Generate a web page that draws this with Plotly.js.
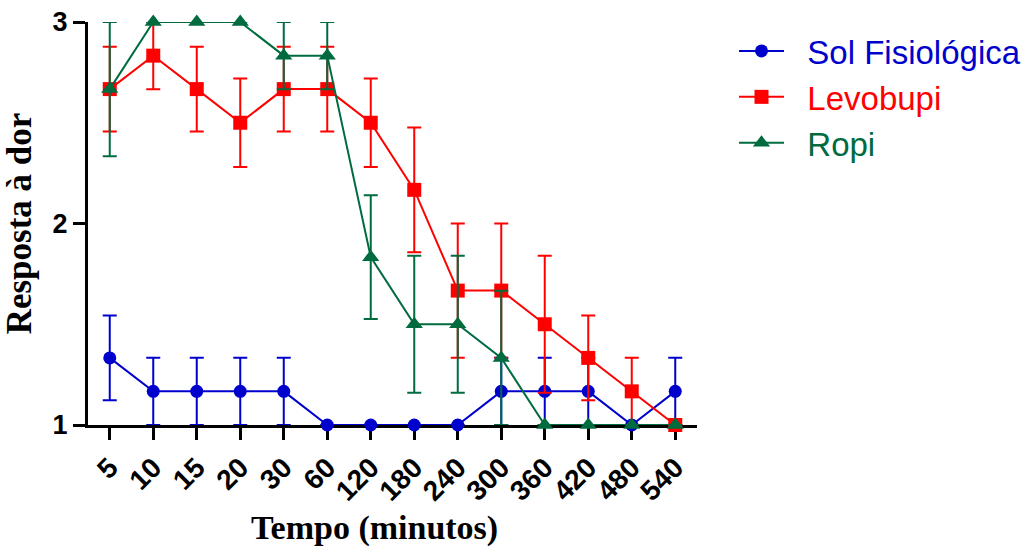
<!DOCTYPE html>
<html>
<head>
<meta charset="utf-8">
<script src="https://cdn.plot.ly/plotly-3.0.1.min.js"></script>
<style>html,body{margin:0;padding:0;background:#fff;}</style>
</head>
<body>
<div id="chart" style="width:1034px;height:550px;"></div>
<script>
const categories = ['5','10','15','20','30','60','120','180','240','300','360','420','480','540'];

const solName = 'Sol Fisiológica';
const solValues = [1.333, 1.167, 1.167, 1.167, 1.167, 1.0, 1.0, 1.0, 1.0, 1.167, 1.167, 1.167, 1.0, 1.167];
const solErrors = [0.21, 0.167, 0.167, 0.167, 0.167, null, null, null, null, 0.167, 0.167, 0.167, null, 0.167];

const levoName = 'Levobupi';
const levoValues = [2.667, 2.833, 2.667, 2.5, 2.667, 2.667, 2.5, 2.167, 1.667, 1.667, 1.5, 1.333, 1.167, 1.0];
const levoErrors = [0.21, 0.167, 0.21, 0.22, 0.21, 0.21, 0.22, 0.31, 0.333, 0.333, 0.34, 0.21, 0.167, null];

const ropiName = 'Ropi';
const ropiValues = [2.667, 3.0, 3.0, 3.0, 2.833, 2.833, 1.833, 1.5, 1.5, 1.333, 1.0, 1.0, 1.0, 1.0];
const ropiErrors = [0.333, null, null, null, 0.167, 0.167, 0.307, 0.34, 0.34, 0.333, null, null, null, null];

const yTickValues = [1, 2, 3];
const xTitle = 'Tempo (minutos)';
const yTitle = 'Resposta à dor';

const colors = {sol: '#0000CD', levo: '#FF0000', ropi: '#006B3F'};

function makeTrace(name, values, errors, color, symbol, size, group) {
  return {
    x: categories,
    y: values,
    type: 'scatter',
    mode: 'lines+markers',
    name: '<span style="color:' + color + '">\u00A0\u00A0' + name + '</span>',
    legendgroup: group,
    line: {color: color, width: 2},
    marker: {color: color, symbol: symbol, size: size},
    error_y: {type: 'data', array: errors, visible: true, color: color, thickness: 2, width: 7},
    cliponaxis: false
  };
}

const traces = [
  makeTrace(solName, solValues, solErrors, colors.sol, 'circle', 13, 'g1'),
  makeTrace(levoName, levoValues, levoErrors, colors.levo, 'square', 14, 'g2'),
  makeTrace(ropiName, ropiValues, ropiErrors, colors.ropi, 'triangle-up', 15, 'g3')
];

const layout = {
  width: 1034,
  height: 550,
  margin: {l: 88, r: 337, t: 22, b: 125, autoexpand: false},
  paper_bgcolor: '#ffffff',
  plot_bgcolor: '#ffffff',
  showlegend: true,
  legend: {
    x: (734 - 88) / 609,
    y: (425 - 23) / 403,
    xanchor: 'left',
    yanchor: 'top',
    itemwidth: 45,
    font: {family: 'Arial, Liberation Sans, sans-serif', size: 33, color: '#000'},
    tracegroupgap: 0,
    bgcolor: 'rgba(0,0,0,0)'
  },
  annotations: [{
    text: xTitle,
    xref: 'paper', yref: 'paper',
    x: (374 - 88) / 609, y: (425 - 528) / 403,
    xanchor: 'center', yanchor: 'middle',
    showarrow: false,
    font: {family: 'Times New Roman, Liberation Serif, serif', size: 34, color: '#000', weight: 'bold'}
  }],
  xaxis: {
    type: 'category',
    categoryorder: 'array',
    categoryarray: categories,
    range: [-0.5, 13.5],
    showgrid: false,
    zeroline: false,
    showline: true,
    linecolor: '#000',
    linewidth: 3,
    ticks: 'outside',
    ticklen: 12,
    tickwidth: 3,
    tickcolor: '#000',
    tickangle: -45,
    automargin: false,
    layer: 'below traces',
    tickfont: {family: 'Arial, Liberation Sans, sans-serif', size: 28, color: '#000', weight: 'bold'}
  },
  yaxis: {
    range: [1, 3],
    tickvals: yTickValues,
    ticktext: yTickValues.map(String),
    showgrid: false,
    zeroline: false,
    showline: true,
    linecolor: '#000',
    linewidth: 3,
    ticks: 'outside',
    ticklen: 12,
    tickwidth: 3,
    tickcolor: '#000',
    automargin: false,
    layer: 'below traces',
    tickfont: {family: 'Arial, Liberation Sans, sans-serif', size: 27, color: '#000', weight: 'bold'},
    title: {text: yTitle, font: {family: 'Times New Roman, Liberation Serif, serif', size: 35, color: '#000', weight: 'bold'}, standoff: 14}
  }
};

Plotly.newPlot('chart', traces, layout, {displayModeBar: false, staticPlot: true});
</script>
</body>
</html>
